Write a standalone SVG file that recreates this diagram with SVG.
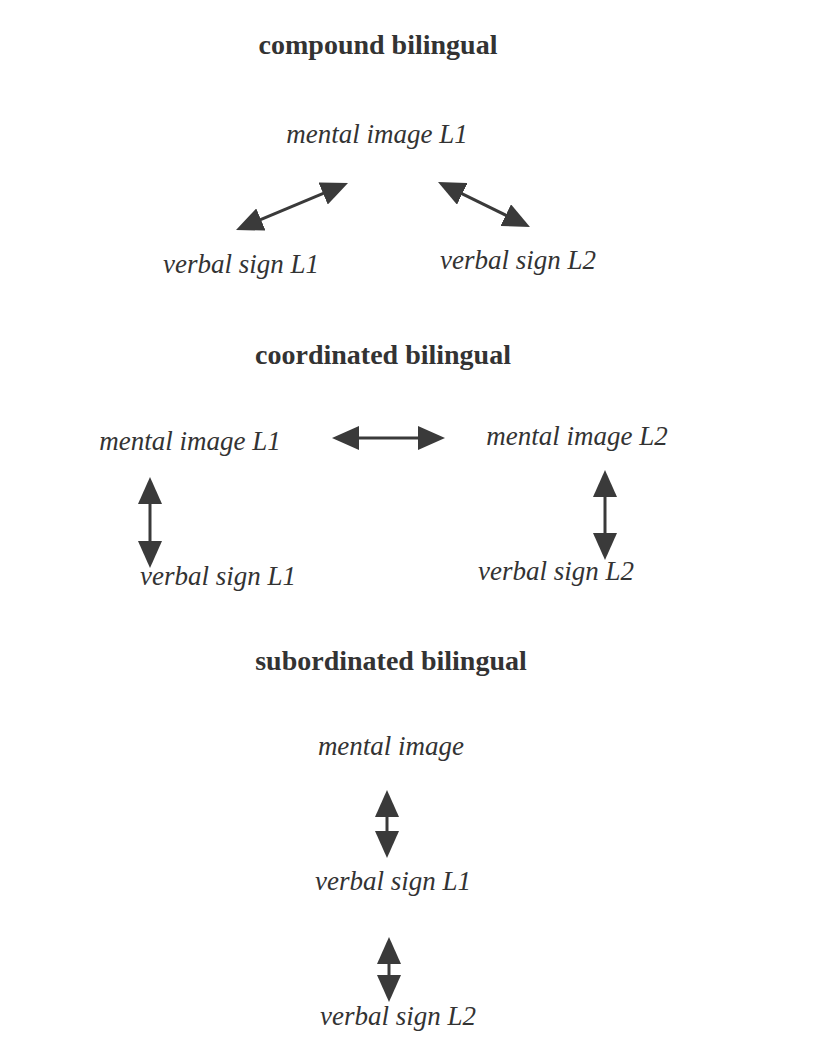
<svg xmlns="http://www.w3.org/2000/svg" width="831" height="1047" viewBox="0 0 831 1047">
<style>
.t{font-family:"Liberation Serif","Times New Roman",serif;font-size:27px;fill:#333;text-anchor:middle}
.h{font-weight:bold;font-size:28px}
.i{font-style:italic}
.c{stroke:#3a3a3a;stroke-width:3;fill:none;marker-start:url(#ah);marker-end:url(#ah)}
</style>
<defs>
<marker id="ah" viewBox="0 0 27 24" refX="17" refY="12" markerWidth="27" markerHeight="24" markerUnits="userSpaceOnUse" orient="auto-start-reverse">
<path d="M0,0 L27,12 L0,24 Z" fill="#3a3a3a"/>
</marker>
</defs>
<rect width="831" height="1047" fill="#fff"/>
<g id="title-compound"><text class="t h" x="378" y="54">compound bilingual</text></g>
<g id="c-mental"><text class="t i" x="377" y="143">mental image L1</text></g>
<g id="c-verbal1"><text class="t i" x="241" y="273">verbal sign L1</text></g>
<g id="c-verbal2"><text class="t i" x="518" y="269">verbal sign L2</text></g>
<g id="title-coordinated"><text class="t h" x="383" y="364">coordinated bilingual</text></g>
<g id="co-mental1"><text class="t i" x="190" y="450">mental image L1</text></g>
<g id="co-mental2"><text class="t i" x="577" y="445">mental image L2</text></g>
<g id="co-verbal1"><text class="t i" x="218" y="585">verbal sign L1</text></g>
<g id="co-verbal2"><text class="t i" x="556" y="580">verbal sign L2</text></g>
<g id="title-subordinated"><text class="t h" x="391" y="670">subordinated bilingual</text></g>
<g id="s-mental"><text class="t i" x="391" y="755">mental image</text></g>
<g id="s-verbal1"><text class="t i" x="393" y="890">verbal sign L1</text></g>
<g id="s-verbal2"><text class="t i" x="398" y="1025">verbal sign L2</text></g>
<g id="connectors">
<line class="c" x1="245.2" y1="226.1" x2="338.8" y2="186.9"/>
<line class="c" x1="447" y1="186.4" x2="521" y2="222.6"/>
<line class="c" x1="342" y1="438" x2="435" y2="438"/>
<line class="c" x1="150" y1="487" x2="150" y2="558"/>
<line class="c" x1="605" y1="480" x2="605" y2="550"/>
<line class="c" x1="387" y1="800" x2="387" y2="848"/>
<line class="c" x1="389" y1="947" x2="389" y2="992"/>
</g>
</svg>
